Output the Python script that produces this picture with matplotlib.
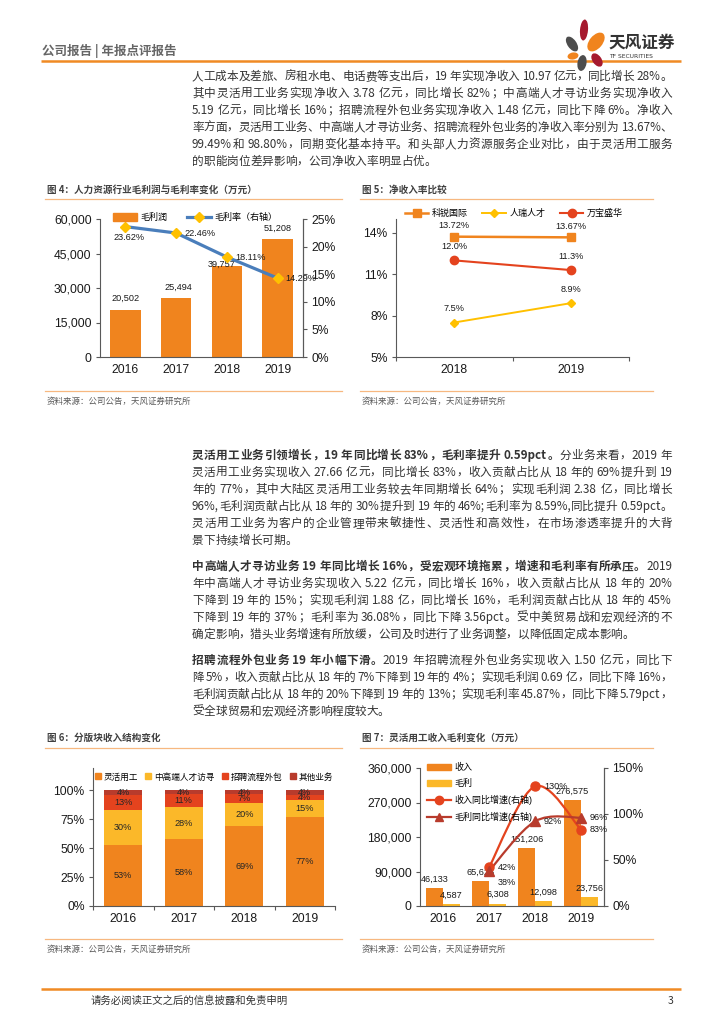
import matplotlib
matplotlib.use('Agg')
import matplotlib.pyplot as plt
import numpy as np
from matplotlib.patches import Ellipse, PathPatch, Patch
from matplotlib.path import Path
from matplotlib.lines import Line2D
from matplotlib.font_manager import FontProperties
from matplotlib.ticker import FuncFormatter, FixedLocator

# ---------------- data ----------------
years_a = ['2016', '2017', '2018', '2019']
gross_profit = [20502, 25494, 39757, 51208]
gross_margin = [23.62, 22.46, 18.11, 14.29]

years_b = ['2018', '2019']
kerui_rate = [13.72, 13.67]
renrui_rate = [7.5, 8.9]
wanbao_rate = [12.0, 11.3]
rate_labels_b = [['13.72%', '13.67%'], ['7.5%', '8.9%'], ['12.0%', '11.3%']]

segment_names = ['灵活用工', '中高端人才访寻', '招聘流程外包', '其他业务']
share_flex = [52.8, 57.6, 68.8, 76.8]
share_exec = [29.9, 27.6, 20.3, 14.7]
share_rpo = [12.9, 11.0, 7.1, 4.3]
share_other = [4.4, 3.8, 3.8, 4.2]

flex_revenue = [46133, 65626, 151206, 276575]
flex_gross = [4587, 6308, 12098, 23756]
growth_years = ['2017', '2018', '2019']
flex_rev_growth = [42, 130, 83]
flex_gp_growth = [38, 92, 96]

para1 = [
    [("人工成本及差旅、房租水电、电话费等支出后，19 年实现净收入 10.97 亿元，同比增长 28%。", False)],
    [("其中灵活用工业务实现净收入 3.78 亿元，同比增长 82%；中高端人才寻访业务实现净收入", False)],
    [("5.19 亿元，同比增长 16%；招聘流程外包业务实现净收入 1.48 亿元，同比下降 6%。净收入", False)],
    [("率方面，灵活用工业务、中高端人才寻访业务、招聘流程外包业务的净收入率分别为 13.67%、", False)],
    [("99.49%和 98.80%，同期变化基本持平。和头部人力资源服务企业对比，由于灵活用工服务", False)],
    [("的职能岗位差异影响，公司净收入率明显占优。", False)],
]
para2 = [
    [("灵活用工业务引领增长，19 年同比增长 83%，毛利率提升 0.59pct。", True), ("分业务来看，2019 年", False)],
    [("灵活用工业务实现收入 27.66 亿元，同比增长 83%，收入贡献占比从 18 年的 69%提升到 19", False)],
    [("年的 77%，其中大陆区灵活用工业务较去年同期增长 64%；实现毛利润 2.38 亿，同比增长", False)],
    [("96%,毛利润贡献占比从 18 年的 30%提升到 19 年的 46%;毛利率为 8.59%,同比提升 0.59pct。", False)],
    [("灵活用工业务为客户的企业管理带来敏捷性、灵活性和高效性，在市场渗透率提升的大背", False)],
    [("景下持续增长可期。", False)],
]
para3 = [
    [("中高端人才寻访业务 19 年同比增长 16%，受宏观环境拖累，增速和毛利率有所承压。", True), ("2019", False)],
    [("年中高端人才寻访业务实现收入 5.22 亿元，同比增长 16%，收入贡献占比从 18 年的 20%", False)],
    [("下降到 19 年的 15%；实现毛利润 1.88 亿，同比增长 16%，毛利润贡献占比从 18 年的 45%", False)],
    [("下降到 19 年的 37%；毛利率为 36.08%，同比下降 3.56pct。受中美贸易战和宏观经济的不", False)],
    [("确定影响，猎头业务增速有所放缓，公司及时进行了业务调整，以降低固定成本影响。", False)],
]
para4 = [
    [("招聘流程外包业务 19 年小幅下滑。", True), ("2019 年招聘流程外包业务实现收入 1.50 亿元，同比下", False)],
    [("降 5%，收入贡献占比从 18 年的 7%下降到 19 年的 4%；实现毛利润 0.69 亿，同比下降 16%，", False)],
    [("毛利润贡献占比从 18 年的 20%下降到 19 年的 13%；实现毛利率 45.87%，同比下降 5.79pct，", False)],
    [("受全球贸易和宏观经济影响程度较大。", False)],
]

# ---------------- style ----------------
CJK = ['Noto Sans CJK SC', 'DejaVu Sans']
CHART = ['Liberation Sans', 'Noto Sans CJK SC', 'DejaVu Sans']
plt.rcParams['font.family'] = CHART
ORANGE = '#F0841E'
YELLOW = '#FBB829'
GOLD = '#FFC000'
RED = '#E4431E'
DARKRED = '#B83B2C'
BLUE = '#4A7EBB'
TXT = '#333333'
AXC = '#595959'
HEADLINE = '#F08A24'
THIN = '#F7B880'

W, H = 724, 1024
fig = plt.figure(figsize=(W / 100, H / 100), dpi=100)
bg = fig.add_axes([0, 0, 1, 1])
bg.set_xlim(0, W)
bg.set_ylim(H, 0)
bg.axis('off')


def box(x0, y0, x1, y1):
    return [x0 / W, 1 - y1 / H, (x1 - x0) / W, (y1 - y0) / H]


# ---------------- header / footer ----------------
bg.text(42, 51, '公司报告 | 年报点评报告', family=CJK, fontsize=9, weight='bold',
        color='#666666', va='center')
bg.plot([41, 681], [61, 61], color=HEADLINE, lw=1.8, solid_capstyle='butt', zorder=1)
# logo petals (centre, width, height, angle, colour); positive angle leans right in this y-down frame
petals = [((572, 44), 9, 17, -35, '#4D4D4D'),
          ((584, 30), 8, 21, 5, '#A6192E'),
          ((596, 42), 13, 22, 40, ORANGE),
          ((573, 56), 11, 7, -10, ORANGE),
          ((582, 63), 9, 16, 10, '#4D4D4D'),
          ((597, 60), 9, 15, -35, '#A6192E')]
for c, w_, h_, ang, col in petals:
    bg.add_patch(Ellipse(c, w_, h_, angle=ang, color=col, lw=0, zorder=2))
bg.text(608, 43, '天风证券', family=CJK, fontsize=12, weight='bold', color='#333333', va='center')
bg.text(609, 56.5, 'TF SECURITIES', family=['DejaVu Sans'], fontsize=4.3, color='#333333', va='center')

bg.plot([41, 681], [989, 989], color=HEADLINE, lw=1.8, solid_capstyle='butt')
bg.text(91, 1001, '请务必阅读正文之后的信息披露和免责申明', family=CJK, fontsize=7.5,
        color='#333333', va='center')
bg.text(668, 1001, '3', family=CJK, fontsize=7.5, color='#333333', va='center')

# ---------------- justified body text ----------------
renderer = fig.canvas.get_renderer()
FP_N = FontProperties(family=CJK, size=8.4)
FP_B = FontProperties(family=CJK, size=8.4, weight='bold')
_wcache = {}


def tw(s, fp):
    key = (s, fp.get_weight())
    if key not in _wcache:
        if s == ' ':
            _wcache[key] = tw('x x', fp) - tw('xx', fp)
        else:
            _wcache[key] = renderer.get_text_width_height_descent(s, fp, ismath=False)[0]
    return _wcache[key]


def tokens(s):
    out, buf = [], ''
    for ch in s:
        if ch.isascii() and ch != ' ':
            buf += ch
        else:
            if buf:
                out.append(buf)
                buf = ''
            out.append(ch)
    if buf:
        out.append(buf)
    return out


def put_line(parts, y, justify=True, x0=192, x1=672):
    items = []
    for s, b in parts:
        fp = FP_B if b else FP_N
        for t in tokens(s):
            items.append((t, fp, tw(t, fp)))
    total = sum(w for _, _, w in items)
    gap = (x1 - x0 - total) / (len(items) - 1) if justify and len(items) > 1 else 0
    x = x0
    for t, fp, w in items:
        if t != ' ':
            bg.text(x, y + 4, t, fontproperties=fp, color=TXT, va='baseline', ha='left')
        x += w + gap


def put_para(lines, y0, step=17):
    for k, ln in enumerate(lines):
        put_line(ln, y0 + k * step, justify=(k < len(lines) - 1))


put_para(para1, 76)
put_para(para2, 455)
put_para(para3, 566)
put_para(para4, 660)

# ---------------- chart frames ----------------
FP_TITLE = FontProperties(family=CJK, size=6.9, weight='bold')
FP_SRC = FontProperties(family=CJK, size=6.1)


def frame(x0, x1, ytitle, yline, ysrcline, title):
    bg.text(x0 + 2, ytitle, title, fontproperties=FP_TITLE, color='#404040', va='center')
    bg.plot([x0, x1], [yline, yline], color=THIN, lw=0.9)
    bg.plot([x0, x1], [ysrcline, ysrcline], color=THIN, lw=0.9)
    bg.text(x0 + 2, ysrcline + 10, '资料来源：公司公告，天风证券研究所', fontproperties=FP_SRC,
            color='#595959', va='center')


frame(45, 342, 190, 199, 391, '图 4：人力资源行业毛利润与毛利率变化（万元）')
frame(360, 653, 190, 199, 391, '图 5：净收入率比较')
frame(45, 342, 738, 748, 939, '图 6：分版块收入结构变化')
frame(360, 653, 738, 748, 939, '图 7：灵活用工收入毛利变化（万元）')

TICK_FS = 8.7
LBL_FS = 6.6
LEG_FP = FontProperties(family=CHART, size=6.5)
thousands = FuncFormatter(lambda v, p: f'{int(v):,}')
pct0 = FuncFormatter(lambda v, p: f'{int(v)}%')


def style(ax, right=False):
    ax.spines['top'].set_visible(False)
    for s in ['left', 'right', 'bottom']:
        ax.spines[s].set_color(AXC)
        ax.spines[s].set_linewidth(0.8)
    if not right:
        ax.spines['right'].set_visible(False)
    ax.tick_params(axis='both', colors=AXC, labelcolor='#1a1a1a', labelsize=TICK_FS,
                   length=3, width=0.8, pad=3)
    ax.tick_params(axis='x', length=0, pad=5)
    ax.patch.set_alpha(0)


# ---------------- chart 4 ----------------
ax4 = fig.add_axes(box(100, 219, 303, 357))
x4 = np.arange(len(years_a))
ax4.bar(x4, gross_profit, width=0.6, color=ORANGE, zorder=2)
ax4.set_xlim(-0.5, 3.5)
ax4.set_ylim(0, 60000)
ax4.set_yticks(np.arange(0, 60001, 15000))
ax4.yaxis.set_major_formatter(thousands)
ax4.set_xticks(x4, years_a)
style(ax4, right=True)
bar_dy = [12, 11, 1, 11]
bar_dx = [0, 2, -5, 0]
for i, v in enumerate(gross_profit):
    ax4.annotate(f'{v:,}', (x4[i], v), xytext=(bar_dx[i], bar_dy[i]), textcoords='offset pixels',
                 ha='center', va='center', fontsize=LBL_FS, color='#1a1a1a')
ax4r = ax4.twinx()
ax4r.plot(x4, gross_margin, color=BLUE, lw=2.3, marker='D', ms=5, mfc=GOLD, mec=GOLD, zorder=3)
ax4r.set_ylim(0, 25)
ax4r.set_yticks(np.arange(0, 26, 5))
ax4r.yaxis.set_major_formatter(pct0)
style(ax4r, right=True)
ax4r.spines['left'].set_visible(False)
ax4r.spines['bottom'].set_visible(False)
ax4r.tick_params(axis='y', length=3, pad=3)
for i, v in enumerate(gross_margin):
    if i == 0:
        ax4r.annotate(f'{v:.2f}%', (x4[i], v), xytext=(4, -11), textcoords='offset pixels',
                      ha='center', va='center', fontsize=LBL_FS, color='#1a1a1a')
    else:
        ax4r.annotate(f'{v:.2f}%', (x4[i], v), xytext=(8, 0), textcoords='offset pixels',
                      ha='left', va='center', fontsize=LBL_FS, color='#1a1a1a')
h4 = [Patch(color=ORANGE),
      Line2D([], [], color=BLUE, lw=2.3, marker='D', ms=5, mfc=GOLD, mec=GOLD)]
ax4r.legend(h4, ['毛利润', '毛利率（右轴）'], loc='center', bbox_to_anchor=(0.47, 1.01), ncol=2,
            frameon=False, prop=LEG_FP, handlelength=2.6, handleheight=0.9,
            columnspacing=2.2, handletextpad=0.4, borderaxespad=0)

# ---------------- chart 5 ----------------
ax5 = fig.add_axes(box(396, 219, 629, 357))
x5 = np.arange(len(years_b))
l1, = ax5.plot(x5, kerui_rate, color=ORANGE, lw=1.8, marker='s', ms=6)
l2, = ax5.plot(x5, renrui_rate, color=GOLD, lw=1.4, marker='D', ms=4)
l3, = ax5.plot(x5, wanbao_rate, color=RED, lw=1.5, marker='o', ms=6)
ax5.set_xlim(-0.5, 1.5)
ax5.set_ylim(5, 15)
ax5.set_yticks([5, 8, 11, 14])
ax5.yaxis.set_major_formatter(pct0)
ax5.set_xticks(x5, years_b)
style(ax5)
ax5.xaxis.set_minor_locator(FixedLocator([-0.5, 0.5, 1.5]))
ax5.tick_params(axis='x', which='minor', length=3, color=AXC, width=0.8)
dys5 = [[11, 11], [14, 14], [14, 14]]
for k, series in enumerate([kerui_rate, renrui_rate, wanbao_rate]):
    for i, v in enumerate(series):
        ax5.annotate(rate_labels_b[k][i], (x5[i], v), xytext=(0, dys5[k][i]), textcoords='offset pixels',
                     ha='center', va='center', fontsize=LBL_FS, color='#1a1a1a')
ax5.legend([l1, l2, l3], ['科锐国际', '人瑞人才', '万宝盛华'], loc='center',
           bbox_to_anchor=(0.506, 1.043), ncol=3, frameon=False, prop=LEG_FP,
           handlelength=2.6, columnspacing=1.6, handletextpad=0.4, borderaxespad=0)

# ---------------- chart 6 ----------------
ax6 = fig.add_axes(box(93, 768, 335, 906))
x6 = np.arange(len(years_a))
bottom = np.zeros(len(years_a))
seg_colors = [ORANGE, YELLOW, RED, DARKRED]
handles6 = []
for vals, col in zip([share_flex, share_exec, share_rpo, share_other], seg_colors):
    vals = np.array(vals)
    ax6.bar(x6, vals, width=0.62, bottom=bottom, color=col, zorder=2)
    for i, v in enumerate(vals):
        ax6.text(x6[i], bottom[i] + v / 2, f'{int(round(v))}%', ha='center', va='center',
                 fontsize=LBL_FS, color='#262626', zorder=3)
    bottom = bottom + vals
    handles6.append(Patch(color=col))
ax6.set_xlim(-0.5, 3.5)
ax6.set_ylim(0, 119)
ax6.set_yticks([0, 25, 50, 75, 100])
ax6.yaxis.set_major_formatter(pct0)
ax6.set_xticks(x6, years_a)
style(ax6)
ax6.xaxis.set_minor_locator(FixedLocator([-0.5, 0.5, 1.5, 2.5, 3.5]))
ax6.tick_params(axis='x', which='minor', length=3, color=AXC, width=0.8)
ax6.legend(handles6, segment_names, loc='center', bbox_to_anchor=(0.5, 0.935), ncol=4,
           frameon=False, prop=FontProperties(family=CHART, size=6.2), handlelength=0.7,
           handleheight=0.7, columnspacing=0.9, handletextpad=0.3, borderaxespad=0)

# ---------------- chart 7 ----------------
ax7 = fig.add_axes(box(420, 768, 604, 906))
x7 = np.arange(len(years_a))
bw = 0.37
ax7.bar(x7 - bw / 2, flex_revenue, width=bw, color=ORANGE, zorder=2)
ax7.bar(x7 + bw / 2, flex_gross, width=bw, color=YELLOW, zorder=2)
for i in range(len(years_a)):
    ax7.annotate(f'{flex_revenue[i]:,}', (x7[i] - bw / 2, flex_revenue[i]), xytext=(0, 9),
                 textcoords='offset pixels', ha='center', va='center', fontsize=LBL_FS, color='#1a1a1a',
                 zorder=5)
    ax7.annotate(f'{flex_gross[i]:,}', (x7[i] + bw / 2, flex_gross[i]), xytext=(0, 9),
                 textcoords='offset pixels', ha='center', va='center', fontsize=LBL_FS, color='#1a1a1a',
                 zorder=5)
ax7.set_xlim(-0.5, 3.5)
ax7.set_ylim(0, 360000)
ax7.set_yticks(np.arange(0, 360001, 90000))
ax7.yaxis.set_major_formatter(thousands)
ax7.set_xticks(x7, years_a)
style(ax7, right=True)
ax7r = ax7.twinx()
ax7r.set_ylim(0, 150)
ax7r.set_yticks([0, 50, 100, 150])
ax7r.yaxis.set_major_formatter(pct0)
style(ax7r, right=True)
ax7r.spines['left'].set_visible(False)
ax7r.spines['bottom'].set_visible(False)
ax7r.tick_params(axis='y', length=3, pad=3)
gx = np.array([years_a.index(y) for y in growth_years], dtype=float)


def smooth_path(xs, ys):
    pts = np.column_stack([xs, ys]).astype(float)
    n = len(pts)
    verts = [pts[0]]
    codes = [Path.MOVETO]
    for i in range(n - 1):
        p0 = pts[i - 1] if i > 0 else pts[i]
        p1, p2 = pts[i], pts[i + 1]
        p3 = pts[i + 2] if i + 2 < n else pts[i + 1]
        c1 = p1 + (p2 - p0) / 6.0
        c2 = p2 - (p3 - p1) / 6.0
        verts += [c1, c2, p2]
        codes += [Path.CURVE4] * 3
    return Path(verts, codes)


ax7r.add_patch(PathPatch(smooth_path(gx, flex_rev_growth), fill=False, edgecolor=RED, lw=1.6, zorder=3))
ax7r.add_patch(PathPatch(smooth_path(gx, flex_gp_growth), fill=False, edgecolor=DARKRED, lw=1.6, zorder=3))
ax7r.plot(gx, flex_rev_growth, ls='none', marker='o', ms=6.5, color=RED, zorder=4)
ax7r.plot(gx, flex_gp_growth, ls='none', marker='^', ms=6.5, color=DARKRED, zorder=4)
for i in range(len(gx)):
    ax7r.annotate(f'{flex_rev_growth[i]}%', (gx[i], flex_rev_growth[i]), xytext=(9, 0),
                  textcoords='offset pixels', ha='left', va='center', fontsize=LBL_FS, color='#1a1a1a')
    dy = -11 if i == 0 else 0
    ax7r.annotate(f'{flex_gp_growth[i]}%', (gx[i], flex_gp_growth[i]), xytext=(9, dy),
                  textcoords='offset pixels', ha='left', va='center', fontsize=LBL_FS, color='#1a1a1a')
h7 = [Patch(color=ORANGE), Patch(color=YELLOW),
      Line2D([], [], color=RED, lw=1.6, marker='o', ms=6),
      Line2D([], [], color=DARKRED, lw=1.6, marker='^', ms=6)]
ax7r.legend(h7, ['收入', '毛利', '收入同比增速(右轴)', '毛利同比增速(右轴)'], loc='upper left',
            bbox_to_anchor=(0.02, 1.06), ncol=1, frameon=False, prop=LEG_FP,
            handlelength=2.6, handleheight=0.7, labelspacing=0.75, handletextpad=0.4, borderaxespad=0)

fig.savefig('out.png', dpi=100)
